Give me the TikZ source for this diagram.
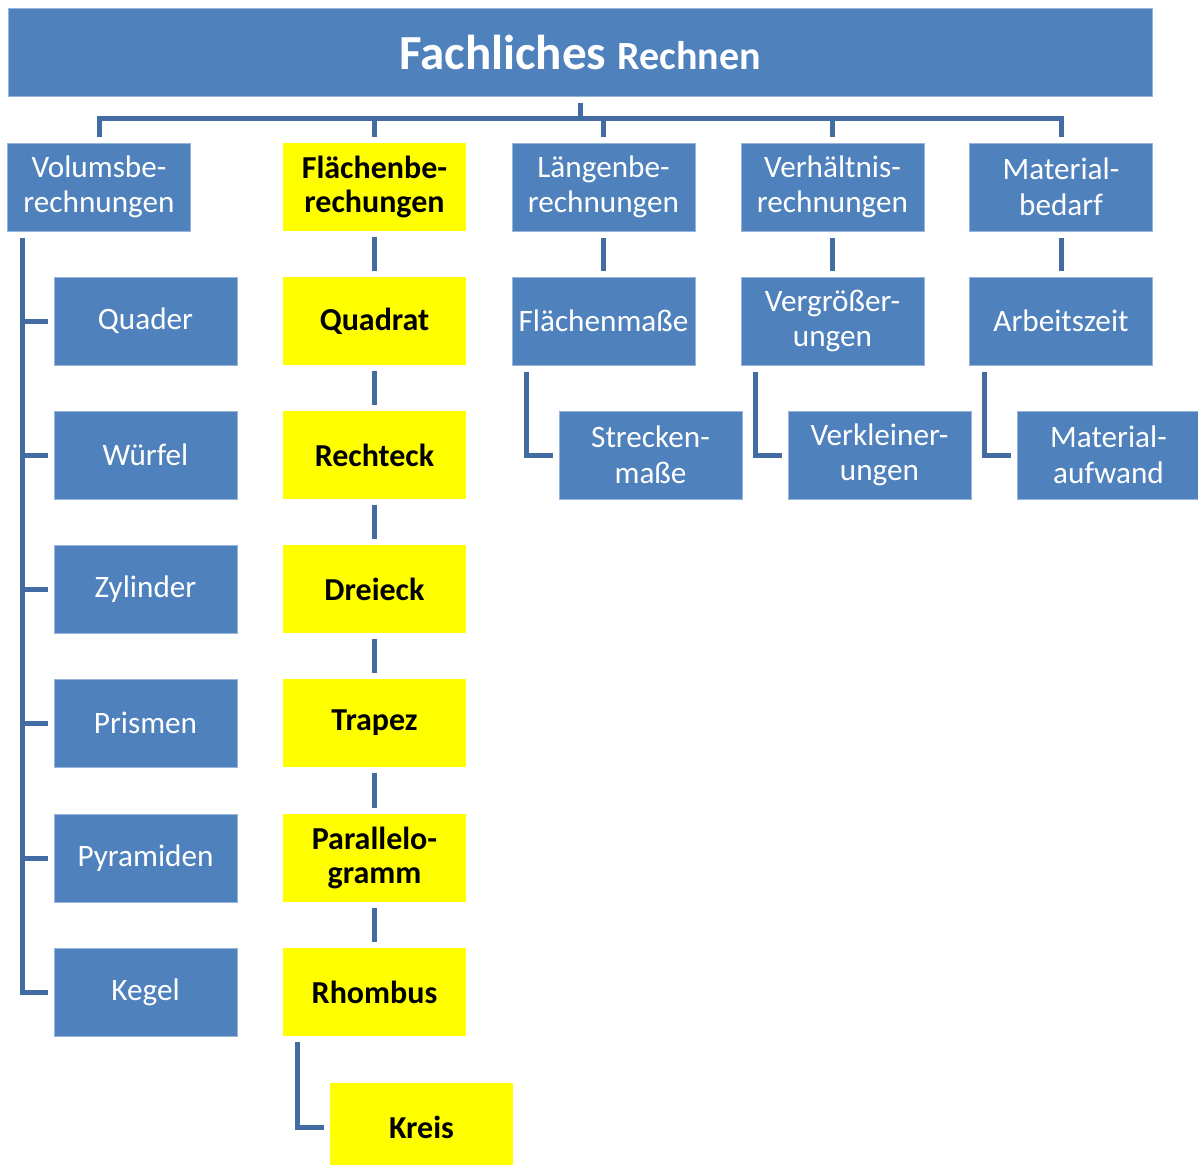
\documentclass[tikz,border=0pt]{standalone}
\usepackage{fontspec}
\setmainfont{Carlito}
\usetikzlibrary{calc}
\definecolor{boxblue}{RGB}{79,129,189}
\definecolor{connblue}{RGB}{66,108,162}
\definecolor{edgeblue}{RGB}{150,180,220}
\definecolor{pureyellow}{RGB}{255,255,0}
\begin{document}
\begin{tikzpicture}[x=0.5pt,y=-0.5pt,
  bluebox/.style={rectangle, fill=boxblue, draw=edgeblue, line width=0.5pt,
    minimum width=91.5pt, minimum height=44pt, inner sep=0pt, align=center,
    text=white, font=\fontsize{15.6}{17.8}\selectfont},
  yellowbox/.style={rectangle, fill=pureyellow, draw=none,
    minimum width=91.5pt, minimum height=44pt, inner sep=0pt, align=center,
    text=black, font=\fontsize{16}{17}\selectfont\bfseries},
  conn/.style={draw=connblue, line width=2.5pt, line join=miter}]
\clip (0,0) rectangle (1198,1164);
% title
\node[rectangle, fill=boxblue, draw=edgeblue, line width=0.5pt, minimum width=572pt, minimum height=44pt, inner sep=0pt, text=white]
  (title) at (580,52) {\fontsize{24.5}{28}\selectfont\bfseries Fachliches {\fontsize{20}{22}\selectfont Rechnen}};
% row 1
\node[bluebox] (vol) at (99,187) {Volumsbe-\\rechnungen};
\node[yellowbox] (fla) at (374.5,187) {Flächenbe-\\rechungen};
\node[bluebox] (lan) at (603.5,187) {Längenbe-\\rechnungen};
\node[bluebox] (ver) at (832.5,187) {Verhältnis-\\rechnungen};
\node[bluebox] (mat) at (1061,187) {Material-\\bedarf};
% Volumen column
\node[bluebox] (quader) at (145.5,321) {Quader};
\node[bluebox] (wuerfel) at (145.5,455) {Würfel};
\node[bluebox] (zyl) at (145.5,589) {Zylinder};
\node[bluebox] (prism) at (145.5,723) {Prismen};
\node[bluebox] (pyr) at (145.5,858) {Pyramiden};
\node[bluebox] (kegel) at (145.5,992) {Kegel};
% Flaechen column
\node[yellowbox] (quad) at (374.5,321) {Quadrat};
\node[yellowbox] (recht) at (374.5,455) {Rechteck};
\node[yellowbox] (drei) at (374.5,589) {Dreieck};
\node[yellowbox] (trap) at (374.5,723) {Trapez};
\node[yellowbox] (para) at (374.5,858) {Parallelo-\\gramm};
\node[yellowbox] (rhomb) at (374.5,992) {Rhombus};
\node[yellowbox] (kreis) at (421.5,1127) {Kreis};
% other columns
\node[bluebox] (flm) at (603.5,321) {Flächenmaße};
\node[bluebox] (strm) at (650.5,455) {Strecken-\\maße};
\node[bluebox] (vgr) at (832.5,321) {Vergrößer-\\ungen};
\node[bluebox] (vkl) at (879.5,455) {Verkleiner-\\ungen};
\node[bluebox] (arb) at (1061,321) {Arbeitszeit};
\node[bluebox] (mauf) at (1108.5,455) {Material-\\aufwand};
% connectors from title
\coordinate (bus) at (580,118);
\draw[conn] ([yshift=-3pt]title.south) -- (bus);
\draw[conn] ([yshift=3pt]vol.north) |- (bus -| mat.north) -- ([yshift=3pt]mat.north);
\foreach \n in {fla,lan,ver}{\draw[conn] (bus -| \n.north) -- ([yshift=3pt]\n.north);}
% Volumen spine
\coordinate (spine) at (22,0);
\draw[conn] ([yshift=-3pt]vol.south -| spine) |- ([xshift=-3pt]kegel.west);
\foreach \n in {quader,wuerfel,zyl,prism,pyr}{\draw[conn] (\n.west -| spine) -- ([xshift=-3pt]\n.west);}
% Flaechen chain
\foreach \a/\b in {fla/quad,quad/recht,recht/drei,drei/trap,trap/para,para/rhomb}{
  \draw[conn] ([yshift=-3pt]\a.south) -- ([yshift=3pt]\b.north);}
\draw[conn] ([xshift=7.5pt,yshift=-3pt]rhomb.south west) |- ([xshift=-3pt]kreis.west);
% other elbows
\draw[conn] ([yshift=-3pt]lan.south) -- ([yshift=3pt]flm.north);
\draw[conn] ([yshift=-3pt]ver.south) -- ([yshift=3pt]vgr.north);
\draw[conn] ([yshift=-3pt]mat.south) -- ([yshift=3pt]arb.north);
\draw[conn] ([xshift=7.5pt,yshift=-3pt]flm.south west) |- ([xshift=-3pt]strm.west);
\draw[conn] ([xshift=7.5pt,yshift=-3pt]vgr.south west) |- ([xshift=-3pt]vkl.west);
\draw[conn] ([xshift=7.5pt,yshift=-3pt]arb.south west) |- ([xshift=-3pt]mauf.west);
\end{tikzpicture}
\end{document}
